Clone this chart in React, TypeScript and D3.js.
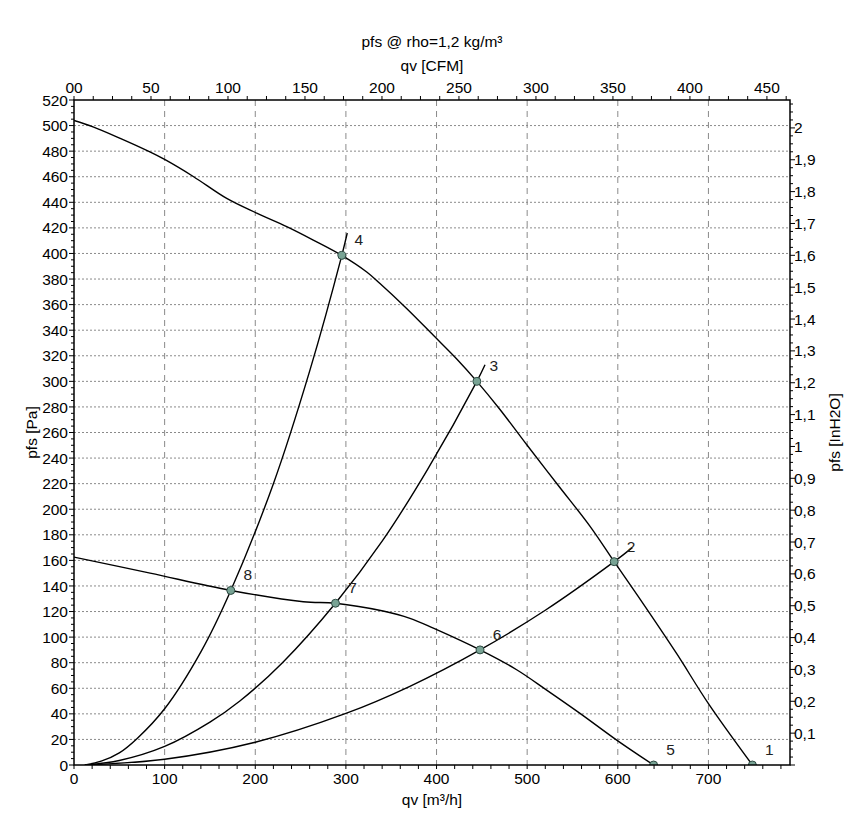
import React from "react";
import * as d3 from "d3";

// ---- data ----
const qMax = 790; // m3/h
const pMax = 520; // Pa
const bottomTicks = [0, 100, 200, 300, 400, 500, 600, 700];
const leftTicks = [0, 20, 40, 60, 80, 100, 120, 140, 160, 180, 200, 220, 240, 260, 280, 300, 320, 340, 360, 380, 400, 420, 440, 460, 480, 500, 520];
const topTicks = [0, 50, 100, 150, 200, 250, 300, 350, 400, 450];
const topTickLabels = ["00", "50", "100", "150", "200", "250", "300", "350", "400", "450"];
const rightTicks = [0.1, 0.2, 0.3, 0.4, 0.5, 0.6, 0.7, 0.8, 0.9, 1, 1.1, 1.2, 1.3, 1.4, 1.5, 1.6, 1.7, 1.8, 1.9, 2];

// fan curve, high speed [q m3/h, p Pa]
const fanHigh: [number, number][] = [
  [0, 504], [21, 499], [51, 490], [82, 480], [100, 473.5], [132, 460], [168.5, 443],
  [201.6, 431.5], [234.7, 421], [264, 410.5], [295.5, 398.5], [323, 385.5], [337.6, 376.5],
  [367, 357], [396.5, 336], [422.3, 317.5], [444.5, 300], [470, 278], [500, 250],
  [535, 218], [569, 187], [596, 159], [630, 124], [665, 87], [700, 48], [748.5, 0],
];
// fan curve, low speed
const fanLow: [number, number][] = [
  [0, 162.6], [84, 150], [173, 136.5], [253, 127.7], [288.5, 126.5], [341, 120.4],
  [370.7, 114.7], [396.5, 107], [448, 90], [488.4, 74.5], [521.5, 58.6], [558.3, 40.4],
  [598.8, 19.5], [639.5, 0],
];
// system curves
const sysA: [number, number][] = [
  [12, 0], [30, 3], [50, 9.5], [70, 21], [100, 44], [140, 88.5], [173, 136.5], [220, 220],
  [260, 308], [295.5, 398.5], [301.5, 416],
];
const sysB: [number, number][] = [
  [12, 0], [50, 3.5], [100, 14.5], [150, 33.5], [183, 50], [230, 80], [288.5, 126.5],
  [340, 175], [390, 231], [444.5, 300], [453.5, 313],
];
const sysC: [number, number][] = [
  [12, 0], [100, 4.5], [200, 17.8], [300, 40.3], [370, 61.3], [448, 90], [520, 121],
  [596, 159], [616, 170],
];
const opIds = ["1", "2", "3", "4", "5", "6", "7", "8"];
const opQ = [748.5, 596, 444.5, 295.5, 639.5, 448, 288.5, 173];
const opP = [0, 159, 300, 398.5, 0, 90, 126.5, 136.5];

const titleText = "pfs @ rho=1,2 kg/m³";
const topAxisTitle = "qv [CFM]";
const bottomAxisTitle = "qv [m³/h]";
const leftAxisTitle = "pfs [Pa]";
const rightAxisTitle = "pfs [InH2O]";

const W = 868;
const H = 839;
const L = 74, R = 790, T = 100, B = 765;
const FONT = "'Liberation Sans', Arial, Helvetica, sans-serif";

export default function App() {
  const x = d3.scaleLinear().domain([0, qMax]).range([L, R]);
  const y = d3.scaleLinear().domain([0, pMax]).range([B, T]);
  const xc = d3.scaleLinear().domain([0, qMax / 1.699]).range([L, R]);
  const yr = d3.scaleLinear().domain([0, pMax / 249.089]).range([B, T]);

  const line = d3
    .line<[number, number]>()
    .x((d) => x(d[0]))
    .y((d) => y(d[1]))
    .curve(d3.curveCatmullRom.alpha(0.5));

  const minorBottom = d3.range(0, qMax + 0.1, 20);
  const minorLeft = d3.range(0, pMax + 0.1, 5);
  const minorTop = d3.range(0, qMax / 1.699, 12.5);
  const minorRight = d3.range(0, pMax / 249.089, 0.025);

  const gridH = leftTicks.filter((v) => v > 0 && v < pMax);
  const gridV = bottomTicks.filter((v) => v > 0);

  return (
    <div style={{ position: "absolute", left: 0, top: 0, width: W, height: H, background: "#fff" }}>
      <svg width={W} height={H} style={{ display: "block" }} fontFamily={FONT}>
        <rect x={0} y={0} width={W} height={H} fill="#fff" />
        <defs>
          <clipPath id="plotclip">
            <rect x={L} y={T} width={R - L} height={B - T} />
          </clipPath>
        </defs>
        {/* grid */}
        {gridH.map((v) => (
          <line key={"gh" + v} x1={L} x2={R} y1={y(v)} y2={y(v)} stroke="#8a8a8a" strokeWidth={1} strokeDasharray="2,2" />
        ))}
        {gridV.map((v) => (
          <line key={"gv" + v} x1={x(v)} x2={x(v)} y1={T} y2={B} stroke="#8a8a8a" strokeWidth={1} strokeDasharray="6,5" />
        ))}

        {/* curves */}
        <g clipPath="url(#plotclip)" fill="none" stroke="#000" strokeWidth={1.4}>
          <path d={line(fanHigh) || ""} />
          <path d={line(fanLow) || ""} />
          <path d={line(sysA) || ""} />
          <path d={line(sysB) || ""} />
          <path d={line(sysC) || ""} />
        </g>

        {/* operating points */}
        <g clipPath="url(#plotclip)">
          {opIds.map((id, i) => (
            <circle key={"op" + id} cx={x(opQ[i])} cy={y(opP[i])} r={4} fill="#78a394" stroke="#2e4a42" strokeWidth={1} />
          ))}
        </g>
        {opIds.map((id, i) => (
          <text key={"opl" + id} x={x(opQ[i]) + 17} y={y(opP[i]) - 10} fontSize={15.5} fill="#222" textAnchor="middle">
            {id}
          </text>
        ))}

        {/* frame */}
        <rect x={L} y={T} width={R - L} height={B - T} fill="none" stroke="#000" strokeWidth={1.5} />

        {/* bottom axis */}
        {minorBottom.map((v) => (
          <line key={"bt" + v} x1={x(v)} x2={x(v)} y1={B} y2={B + 4} stroke="#000" />
        ))}
        {bottomTicks.map((v) => (
          <text key={"btl" + v} x={x(v)} y={784} fontSize={15.5} textAnchor="middle" fill="#000">
            {v}
          </text>
        ))}
        {/* top axis */}
        {minorTop.map((v) => (
          <line key={"tt" + v} x1={xc(v)} x2={xc(v)} y1={T} y2={T - 4} stroke="#000" />
        ))}
        {topTicks.map((v, i) => (
          <text key={"ttl" + v} x={xc(v)} y={93} fontSize={15.5} textAnchor="middle" fill="#000">
            {topTickLabels[i]}
          </text>
        ))}
        {/* left axis */}
        {minorLeft.map((v) => (
          <line key={"lt" + v} x1={L} x2={L - (v % 20 === 0 ? 5 : 3)} y1={y(v)} y2={y(v)} stroke="#000" />
        ))}
        {leftTicks.map((v) => (
          <text key={"ltl" + v} x={68} y={y(v)} dy="0.36em" fontSize={15.5} textAnchor="end" fill="#000">
            {v}
          </text>
        ))}
        {/* right axis */}
        {minorRight.map((v, i) => (
          <line key={"rt" + i} x1={R} x2={R + (i % 4 === 0 ? 5 : 3)} y1={yr(v)} y2={yr(v)} stroke="#000" />
        ))}
        {rightTicks.map((v) => (
          <text key={"rtl" + v} x={794} y={yr(v)} dy="0.36em" fontSize={15.5} textAnchor="start" fill="#000">
            {String(v).replace(".", ",")}
          </text>
        ))}

        {/* titles */}
        <text x={(L + R) / 2} y={47} fontSize={15.5} textAnchor="middle" fill="#000">{titleText}</text>
        <text x={(L + R) / 2} y={71} fontSize={15.5} textAnchor="middle" fill="#000">{topAxisTitle}</text>
        <text x={(L + R) / 2} y={805} fontSize={15.5} textAnchor="middle" fill="#000">{bottomAxisTitle}</text>
        <text transform={`translate(37,${(T + B) / 2}) rotate(-90)`} fontSize={15.5} textAnchor="middle" fill="#000">{leftAxisTitle}</text>
        <text transform={`translate(840,${(T + B) / 2}) rotate(-90)`} fontSize={15.5} textAnchor="middle" fill="#000">{rightAxisTitle}</text>
      </svg>
    </div>
  );
}
